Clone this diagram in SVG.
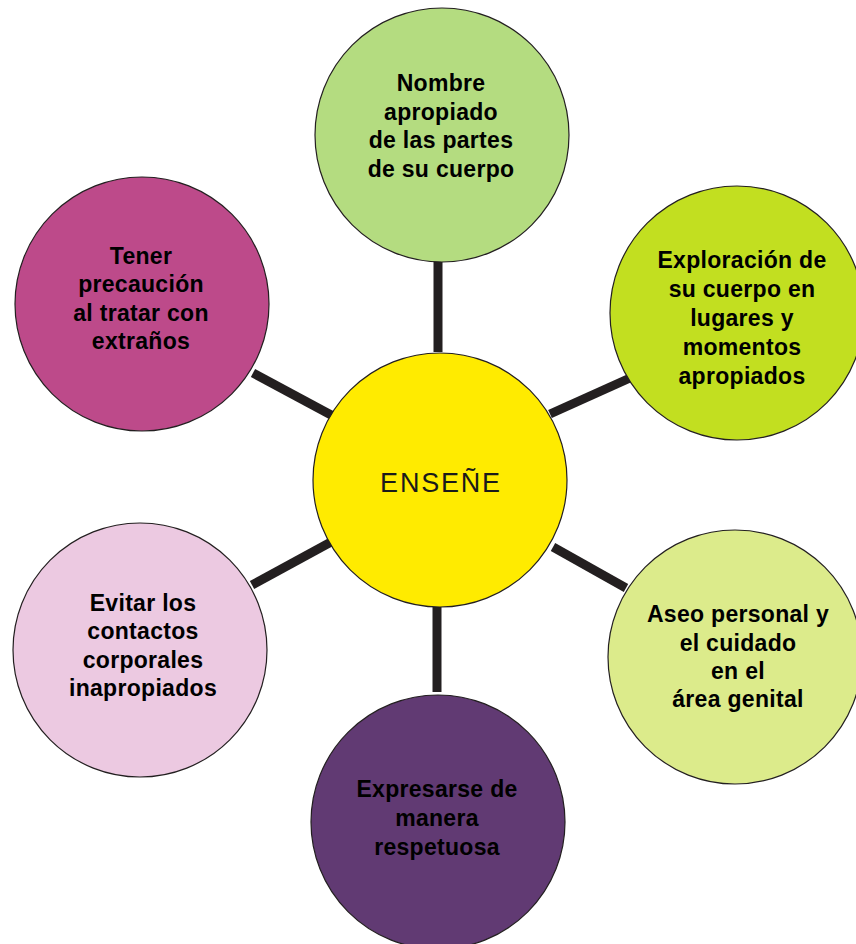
<svg xmlns="http://www.w3.org/2000/svg" width="856" height="944" viewBox="0 0 856 944">
<style>
.c{stroke:#231f20;stroke-width:1.2}
.t{font-family:"Liberation Sans",Arial,sans-serif;font-weight:bold;font-size:23px;fill:#000;text-anchor:middle;letter-spacing:0.3px}
.m{font-family:"Liberation Sans",Arial,sans-serif;font-size:27px;fill:#1a1a1a;text-anchor:middle;letter-spacing:1.8px}
.l{stroke:#231f20;stroke-width:9;stroke-linecap:butt;fill:none}
</style>
<rect width="856" height="944" fill="#fff"/>
<g id="connectors">
<line class="l" x1="438" y1="261" x2="438" y2="352"/>
<line class="l" x1="437" y1="607" x2="437" y2="692"/>
<line class="l" x1="253" y1="373" x2="333" y2="416"/>
<line class="l" x1="252" y1="585" x2="331" y2="542"/>
<line class="l" x1="550" y1="414" x2="630" y2="378"/>
<line class="l" x1="553" y1="547" x2="626" y2="588"/>
</g>
<g id="center">
<circle class="c" cx="440" cy="480" r="127" fill="#ffeb00"/>
<text class="m" x="441" y="492">ENSEÑE</text>
</g>
<g id="n-top">
<circle class="c" cx="442" cy="135" r="127" fill="#b4dc80"/>
<text class="t" x="441" y="91">Nombre</text>
<text class="t" x="441" y="120">apropiado</text>
<text class="t" x="441" y="148">de las partes</text>
<text class="t" x="441" y="177">de su cuerpo</text>
</g>
<g id="n-topright">
<circle class="c" cx="737" cy="313" r="127" fill="#c2df20"/>
<text class="t" x="742" y="268">Exploración de</text>
<text class="t" x="742" y="297">su cuerpo en</text>
<text class="t" x="742" y="326">lugares y</text>
<text class="t" x="742" y="355">momentos</text>
<text class="t" x="742" y="384">apropiados</text>
</g>
<g id="n-bottomright">
<circle class="c" cx="735" cy="657" r="127" fill="#dceb8b"/>
<text class="t" x="738" y="622">Aseo personal y</text>
<text class="t" x="738" y="651">el cuidado</text>
<text class="t" x="738" y="679">en el</text>
<text class="t" x="738" y="707">área genital</text>
</g>
<g id="n-bottom">
<circle class="c" cx="438" cy="822" r="127" fill="#613a73"/>
<text class="t" x="437" y="797">Expresarse de</text>
<text class="t" x="437" y="826">manera</text>
<text class="t" x="437" y="855">respetuosa</text>
</g>
<g id="n-bottomleft">
<circle class="c" cx="140" cy="650" r="127" fill="#ecc9e1"/>
<text class="t" x="143" y="611">Evitar los</text>
<text class="t" x="143" y="639">contactos</text>
<text class="t" x="143" y="668">corporales</text>
<text class="t" x="143" y="696">inapropiados</text>
</g>
<g id="n-topleft">
<circle class="c" cx="142" cy="304" r="127" fill="#bd4a8a"/>
<text class="t" x="141" y="264">Tener</text>
<text class="t" x="141" y="292">precaución</text>
<text class="t" x="141" y="321">al tratar con</text>
<text class="t" x="141" y="349">extraños</text>
</g>
</svg>
